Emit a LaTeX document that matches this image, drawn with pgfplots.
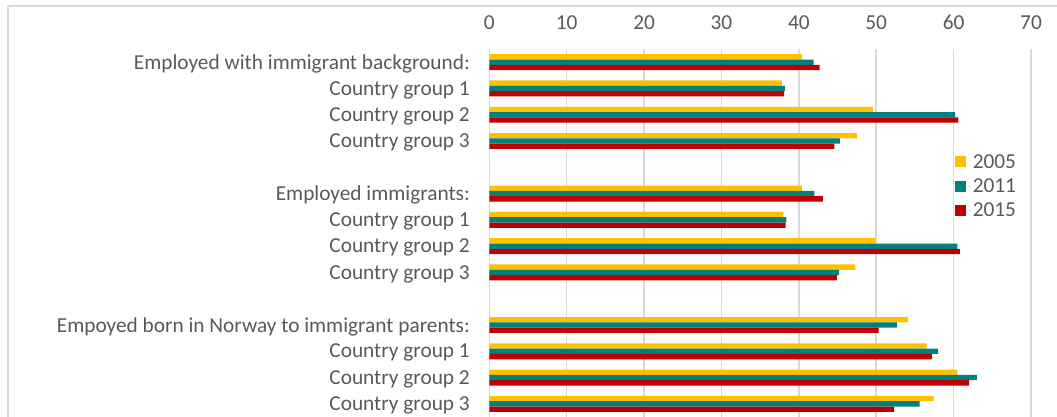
\documentclass[border=0pt]{standalone}
\usepackage{pgfplots}
\pgfplotsset{compat=1.18}
\usepackage{fontspec}
\setmainfont{Carlito}
\definecolor{cY}{HTML}{FFC000}
\definecolor{cT}{HTML}{00807F}
\definecolor{cR}{HTML}{C00000}
\definecolor{txt}{HTML}{595959}
\definecolor{grd}{HTML}{D9D9D9}
\begin{document}
\begin{tikzpicture}[x=1bp,y=1bp]
\path[use as bounding box] (0,0) rectangle (1057,-416);
\draw[grd, line width=1.5bp] (8,-440) -- (8,-6) -- (1080,-6);
\begin{axis}[
  at={(489.3bp,-49bp)}, anchor=north west,
  scale only axis, width=541.7bp, height=368bp,
  xmin=0, xmax=70, ymin=-0.5, ymax=13.5, y dir=reverse,
  xtick={0,10,...,70}, xticklabel pos=right,
  /pgf/number format/assume math mode=true,
  axis line style={draw=none}, major tick length=0pt,
  xmajorgrids, grid style={grd, line width=1.5bp},
  ytick={0,1,2,3,5,6,7,8,10,11,12,13},
  yticklabels={Employed with immigrant background:, Country group 1, Country group 2, Country group 3,
               Employed immigrants:, Country group 1, Country group 2, Country group 3,
               Empoyed born in Norway to immigrant parents:, Country group 1, Country group 2, Country group 3},
  yticklabel style={font=\fontsize{21.4}{25}\selectfont, text=txt, xshift=-16bp, yshift=-1.5bp},
  xticklabel style={font=\fontsize{21.4}{25}\selectfont, text=txt, yshift=16bp},
  xbar, bar width=5.3bp,
  legend style={at={(0.859,0.720)}, anchor=north west, draw=none, fill=none,
     font=\fontsize{21.4}{25}\selectfont, text=txt, row sep=5bp,
     inner sep=0pt, cells={anchor=west}},
  legend image code/.code={\fill[#1] (0bp,-5.5bp) rectangle (11bp,5.5bp); \path (0bp,0bp) -- (16bp,0bp);},
  clip=false,
]
\addplot[fill=cY, draw=none, bar shift=5.3bp] coordinates {
 (40.4,0) (37.8,1) (49.6,2) (47.5,3) (40.4,5) (38.0,6) (49.9,7) (47.3,8) (54.1,10) (56.5,11) (60.5,12) (57.4,13)};
\addplot[fill=cT, draw=none, bar shift=0bp] coordinates {
 (41.9,0) (38.2,1) (60.2,2) (45.3,3) (42.0,5) (38.4,6) (60.5,7) (45.2,8) (52.7,10) (58.0,11) (63.0,12) (55.6,13)};
\addplot[fill=cR, draw=none, bar shift=-5.3bp] coordinates {
 (42.7,0) (38.1,1) (60.6,2) (44.6,3) (43.1,5) (38.3,6) (60.8,7) (44.9,8) (50.3,10) (57.2,11) (62.0,12) (52.3,13)};
\legend{2005,2011,2015}
\end{axis}
\end{tikzpicture}
\end{document}
